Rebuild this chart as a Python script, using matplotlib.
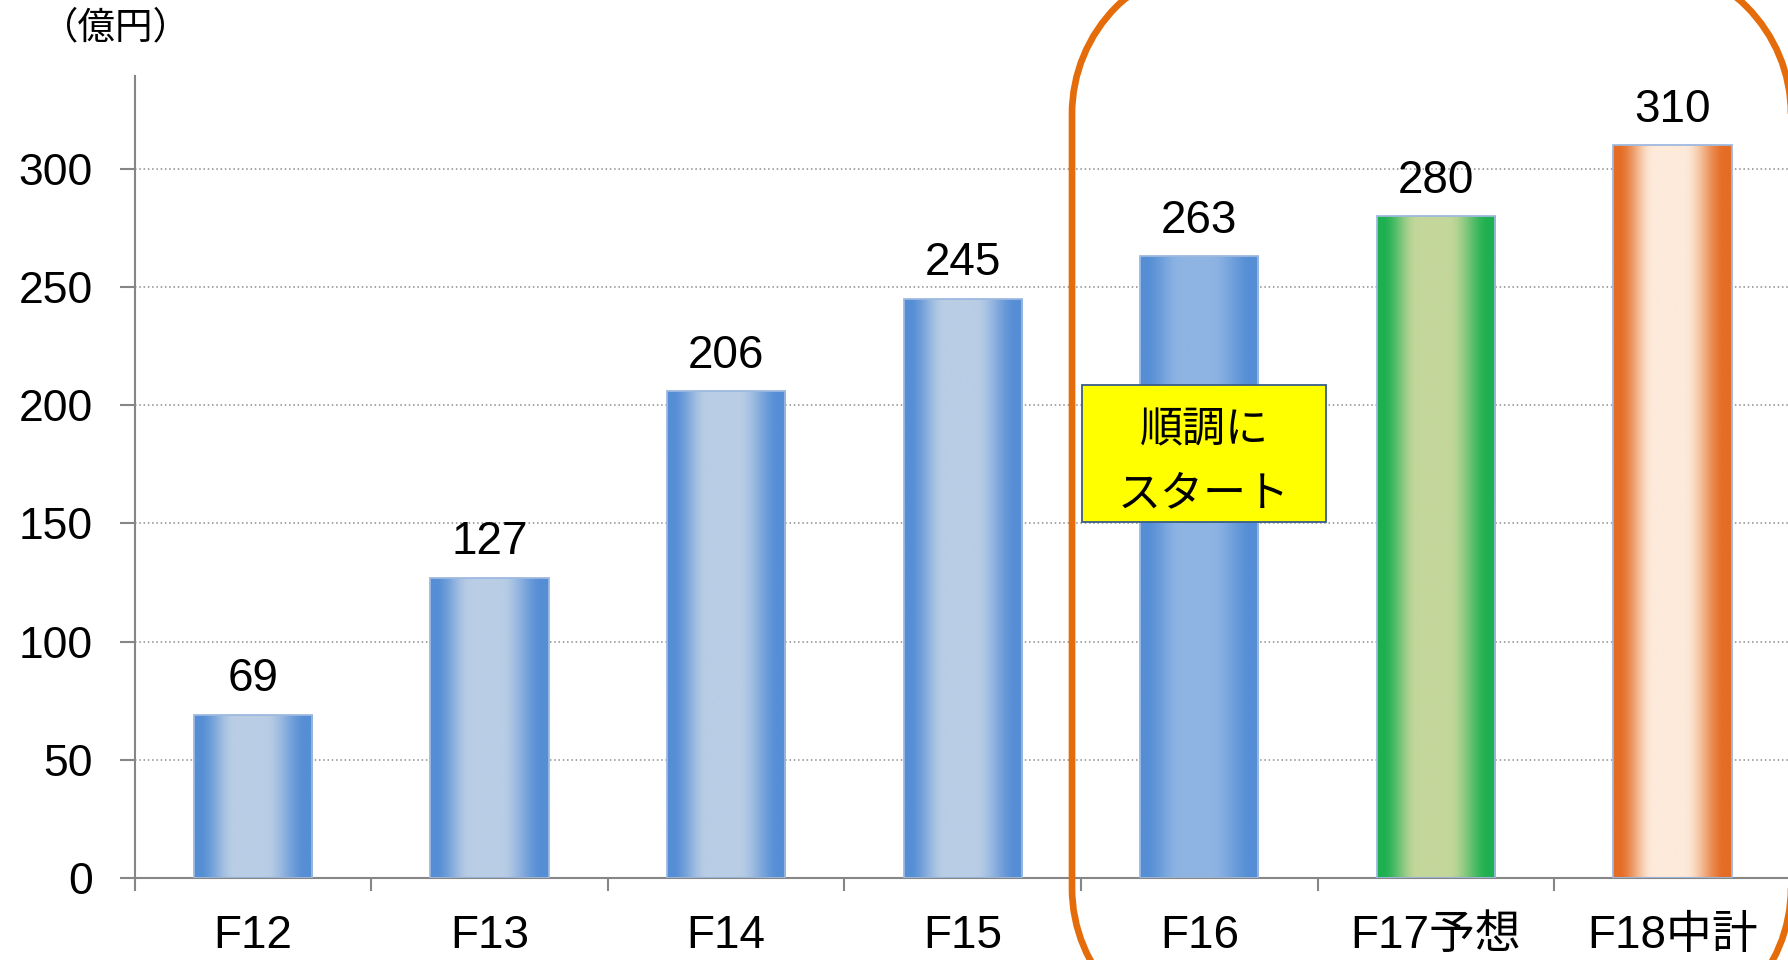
import matplotlib
matplotlib.use('Agg')
import matplotlib.pyplot as plt
import numpy as np
from matplotlib.patches import Rectangle, PathPatch
from matplotlib.path import Path
from matplotlib.transforms import IdentityTransform
from matplotlib.colors import to_rgb
from matplotlib import font_manager

# ---- data ----
categories = ['F12', 'F13', 'F14', 'F15', 'F16', 'F17予想', 'F18中計']
values = [69, 127, 206, 245, 263, 280, 310]
y_ticks = [0, 50, 100, 150, 200, 250, 300]
unit_label = '（億円）'
callout_text = '順調に\nスタート'

# ---- styles ----
bar_edge_colors = ['#558ED5', '#558ED5', '#558ED5', '#558ED5', '#558ED5', '#1DB050', '#E46C24']
bar_center_colors = ['#B9CDE5', '#B9CDE5', '#B9CDE5', '#B9CDE5', '#8EB4E3', '#C4D79B', '#FDEADA']

names = {f.name for f in font_manager.fontManager.ttflist}
narrow = 'Liberation Sans Narrow' if 'Liberation Sans Narrow' in names else 'Liberation Sans'
LATIN = ['Liberation Sans', 'Noto Sans CJK JP']
CJK = ['Noto Sans CJK JP', 'Liberation Sans']

W, H, DPI = 1788, 960, 100
fig = plt.figure(figsize=(W / DPI, H / DPI), dpi=DPI)
ax = fig.add_axes([134.6 / W, 82 / H, 1656.2 / W, 802 / H])

x = np.arange(len(categories))
bars = ax.bar(x, values, width=0.5, color='none', edgecolor='#9DB9E0', linewidth=1.3, zorder=3)

t = np.linspace(0, 1, 256)
w = np.interp(t, [0, 0.04, 0.34, 0.6, 0.95, 1], [0, 0, 1, 1, 0, 0])
w = w * w * (3 - 2 * w)
for b, ec, cc in zip(bars, bar_edge_colors, bar_center_colors):
    e = np.array(to_rgb(ec)); c = np.array(to_rgb(cc))
    grad = (e[None, :] * (1 - w[:, None]) + c[None, :] * w[:, None])[None, :, :]
    x0, wd, h = b.get_x(), b.get_width(), b.get_height()
    im = ax.imshow(grad, extent=[x0, x0 + wd, 0, h], aspect='auto', zorder=2,
                   interpolation='bilinear')
    im.set_clip_path(b)

for xi, v in zip(x, values):
    ax.annotate(str(v), (xi, v), xytext=(0, 25.5), textcoords='offset points',
                ha='center', va='center', fontsize=33, family=[narrow, 'Liberation Sans'])

ax.set_xlim(-0.5, len(categories) - 0.5)
ax.set_ylim(0, 339.3)

ax.set_yticks(y_ticks)
ax.set_yticklabels([str(v) for v in y_ticks], fontsize=32, family=LATIN)
ax.tick_params(axis='y', length=11, width=1.5, color='#868686', pad=19)

ax.set_xticks(np.arange(len(categories) + 1) - 0.5)
ax.set_xticklabels([])
ax.tick_params(axis='x', which='major', length=9.5, width=1.5, color='#868686')
ax.set_xticks(x, minor=True)
ax.set_xticklabels(categories, minor=True, fontsize=33, family=LATIN)
ax.tick_params(axis='x', which='minor', length=0, pad=26)

for s in ['top', 'right']:
    ax.spines[s].set_visible(False)
for s in ['left', 'bottom']:
    ax.spines[s].set_color('#868686')
    ax.spines[s].set_linewidth(1.5)

ax.yaxis.grid(True, linestyle=(0, (1, 1.8)), color='#8C8C8C', linewidth=1.1, zorder=1)
ax.set_axisbelow(True)

# callout box
bx, by0, by1, bw = 4.02, 150.6, 208.5, 1.035
ax.add_patch(Rectangle((bx - bw / 2, by0), bw, by1 - by0, facecolor='#FFFF00',
                       edgecolor='#385D8A', linewidth=1.3, zorder=6))
ax.text(bx, (by0 + by1) / 2 - 3.5, callout_text, ha='center', va='center', fontsize=31,
        family=CJK, linespacing=1.58, zorder=7)

# unit label
fig.text(116 / W, 1 - 28 / H, unit_label, ha='center', va='center', fontsize=27, family=CJK)

# orange rounded frame (display pixels)
fig.canvas.draw()
L = ax.transData.transform((3.462, 0))[0]
R, top, bot, r = 1791, H + 38, -80, 152

def rounded_rect(l, b, rr, tt, rad):
    verts, codes = [], []
    def arc(cx, cy, a0, a1):
        a = Path.arc(a0, a1)
        v = a.vertices * rad + np.array([cx, cy])
        return v, a.codes
    pieces = [arc(rr - rad, tt - rad, 0, 90), arc(l + rad, tt - rad, 90, 180),
              arc(l + rad, b + rad, 180, 270), arc(rr - rad, b + rad, 270, 360)]
    for i, (v, c) in enumerate(pieces):
        c = c.copy()
        c[0] = Path.MOVETO if i == 0 else Path.LINETO
        verts.extend(v.tolist()); codes.extend(c.tolist())
    verts.append(verts[0]); codes.append(Path.CLOSEPOLY)
    return Path(verts, codes)

frame = PathPatch(rounded_rect(L, bot, R, top, r), transform=IdentityTransform(),
                  fill=False, edgecolor='#E46C0A', linewidth=4.8, zorder=10, clip_on=False)
fig.add_artist(frame)

fig.savefig('out.png', dpi=DPI)
